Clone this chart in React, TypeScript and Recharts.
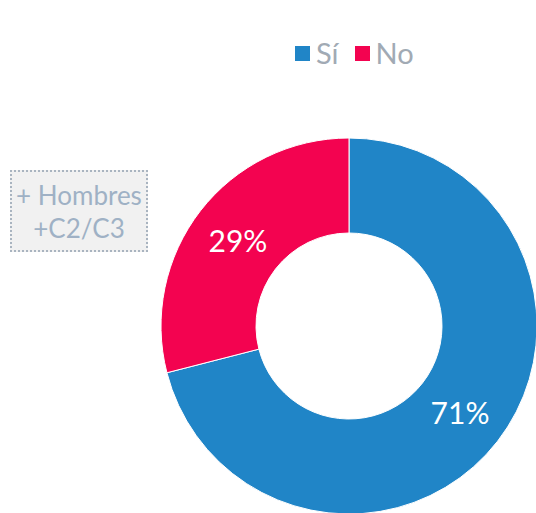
import { PieChart, Pie, Cell } from 'recharts';

const categories = ['Sí', 'No'];
const values = [71, 29];
const colors = ['#2085c7', '#f30350'];

const data = categories.map((name, i) => ({ name, value: values[i] }));

const RADIAN = Math.PI / 180;

function renderLabel(props: any) {
  const { cx, cy, midAngle, innerRadius, outerRadius, percent } = props;
  const r = (innerRadius + outerRadius) / 2;
  const x = cx + r * Math.cos(-midAngle * RADIAN);
  const y = cy + r * Math.sin(-midAngle * RADIAN);
  return (
    <text x={x} y={y} fill="#fff" fontSize={30} textAnchor="middle" dominantBaseline="central" fontFamily="Lato, sans-serif">
      {Math.round(percent * 100)}%
    </text>
  );
}

export default function App() {
  return (
    <div style={{ position: 'absolute', left: 0, top: 0, width: 536, height: 513, background: '#fff', overflow: 'hidden' }}>
      <PieChart width={536} height={513} margin={{ top: 0, right: 0, bottom: 0, left: 0 }}>
        <Pie
          data={data}
          dataKey="value"
          nameKey="name"
          cx={349}
          cy={326}
          innerRadius={93}
          outerRadius={188}
          startAngle={90}
          endAngle={-270}
          stroke="#fff"
          strokeWidth={1}
          label={renderLabel}
          labelLine={false}
          isAnimationActive={false}
        >
          {data.map((d, i) => (
            <Cell key={d.name} fill={colors[i]} />
          ))}
        </Pie>
      </PieChart>
      <div style={{ position: 'absolute', left: 295, top: 34, display: 'flex', gap: 16, fontFamily: 'Lato, sans-serif' }}>
        {data.map((d, i) => (
          <span key={d.name} style={{ display: 'flex', alignItems: 'center', color: '#a1aab4', fontSize: 29, lineHeight: '38px' }}>
            <span style={{ width: 15, height: 15, background: colors[i], display: 'inline-block', marginRight: 6 }} />
            {d.name}
          </span>
        ))}
      </div>
      <div
        style={{
          position: 'absolute',
          left: 10,
          top: 170,
          width: 138,
          height: 82,
          background: '#f1f1f1',
          border: '2px dotted #a9b4c0',
          color: '#9fb1c5',
          fontFamily: 'Lato, sans-serif',
          fontSize: 26,
          lineHeight: '33px',
          textAlign: 'center',
          boxSizing: 'border-box',
          paddingTop: 7,
          whiteSpace: 'nowrap',
        }}
      >
        <div>+ Hombres</div>
        <div>+C2/C3</div>
      </div>
    </div>
  );
}
